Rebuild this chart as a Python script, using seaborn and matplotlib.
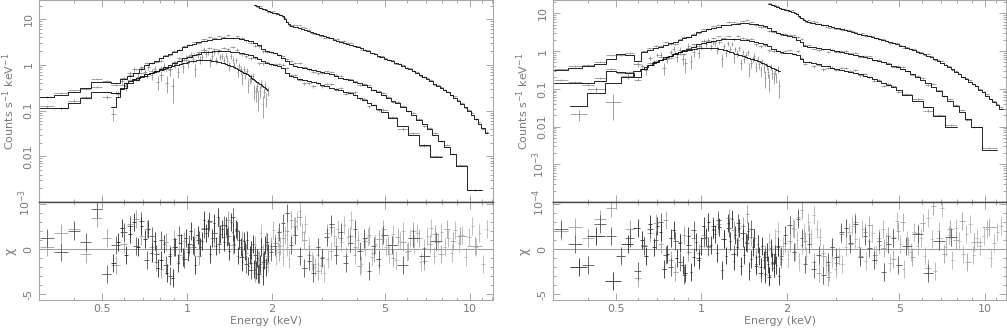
import numpy as np
import pandas as pd
import matplotlib
matplotlib.use("Agg")
import matplotlib.pyplot as plt
from matplotlib.ticker import FixedLocator, FuncFormatter, NullFormatter, MultipleLocator
import seaborn as sns

# ---------------------------
# Energy grids (bin centres, keV)
# ---------------------------
upper_energy = [0.32, 0.36, 0.40, 0.44, 0.48, 0.52, 0.56, 0.60,
                0.63, 0.66, 0.69, 0.72, 0.75, 0.78, 0.81, 0.84, 0.87, 0.90,
                0.94, 0.98, 1.02, 1.06, 1.10,
                1.15, 1.20, 1.25, 1.30, 1.35, 1.40, 1.45, 1.50,
                1.56, 1.62, 1.68, 1.74, 1.80, 1.86, 1.92, 1.98,
                2.05, 2.12, 2.19, 2.26, 2.33, 2.40,
                2.50, 2.60, 2.70, 2.80, 2.90, 3.0,
                3.12, 3.24, 3.36,
                3.5, 3.64, 3.78, 3.92,
                4.08, 4.24, 4.4,
                4.58, 4.76, 4.95,
                5.15, 5.35, 5.55,
                5.8, 6.05, 6.3,
                6.6, 6.9, 7.2, 7.55,
                7.9, 8.3, 8.7, 9.2,
                10.4]
lower_energy = [0.32, 0.36, 0.40, 0.44, 0.48, 0.52, 0.56, 0.60,
                0.63, 0.66, 0.69, 0.72, 0.75, 0.78, 0.81, 0.84, 0.87, 0.90,
                0.94, 0.98, 1.02, 1.06, 1.10,
                1.15, 1.20, 1.25, 1.30, 1.35, 1.40, 1.45, 1.50,
                1.56, 1.62, 1.68, 1.74, 1.80, 1.86, 1.92, 1.98,
                2.05, 2.12, 2.19, 2.26, 2.33, 2.40,
                2.50, 2.60, 2.70, 2.80, 2.90, 3.0,
                3.12, 3.24, 3.36,
                3.5, 3.64, 3.78, 3.92,
                4.08, 4.24, 4.4,
                4.58, 4.76, 4.95,
                5.3, 5.8, 6.3, 6.9, 7.6]
hard_energy = [1.74, 1.78, 1.82, 1.86, 1.90, 1.94, 1.98, 2.02, 2.06, 2.10, 2.14, 2.18, 2.22,
               2.26, 2.30, 2.34,
               2.39, 2.44, 2.50, 2.56, 2.62,
               2.69, 2.76, 2.83, 2.90,
               2.98, 3.06, 3.14,
               3.23, 3.32, 3.41, 3.5,
               3.6, 3.7, 3.8,
               3.91, 4.02, 4.13,
               4.25, 4.37, 4.5,
               4.63, 4.76, 4.9,
               5.04, 5.18, 5.33, 5.48,
               5.64, 5.8, 5.97, 6.14,
               6.32, 6.5, 6.69, 6.88,
               7.08, 7.28, 7.49, 7.7,
               7.92, 8.15, 8.38, 8.62,
               8.87, 9.12, 9.38, 9.65,
               9.93, 10.21, 10.5, 10.8,
               11.1, 11.45]
left_soft_energy = [0.55, 0.57, 0.59, 0.61, 0.63, 0.65, 0.67, 0.69, 0.71, 0.73,
                    0.75, 0.77, 0.79, 0.81, 0.83, 0.85, 0.87, 0.89, 0.91, 0.93,
                    0.95, 0.97, 0.99, 1.01, 1.03, 1.05, 1.07, 1.09, 1.11, 1.13,
                    1.15, 1.17, 1.19, 1.21, 1.23, 1.25, 1.27, 1.29, 1.31, 1.33,
                    1.35, 1.37, 1.39, 1.41, 1.43, 1.45, 1.47, 1.49, 1.51, 1.53,
                    1.55, 1.57, 1.59, 1.61, 1.63, 1.65, 1.67, 1.69, 1.71, 1.73,
                    1.75, 1.77, 1.79, 1.81, 1.83, 1.85, 1.87, 1.89, 1.91, 1.93]
right_soft_energy = [0.37, 0.425, 0.49, 0.55, 0.60,
                     0.62, 0.64, 0.66, 0.68, 0.70, 0.72, 0.74, 0.76, 0.78, 0.80,
                     0.82, 0.84, 0.86, 0.88, 0.90, 0.92, 0.94, 0.96, 0.98, 1.00,
                     1.02, 1.04, 1.06, 1.08, 1.10, 1.12, 1.14, 1.16, 1.18, 1.20,
                     1.22, 1.24, 1.26, 1.28, 1.30, 1.32, 1.34, 1.36, 1.38, 1.40,
                     1.42, 1.44, 1.46, 1.48, 1.50, 1.52, 1.54, 1.56, 1.58, 1.60,
                     1.62, 1.64, 1.66, 1.68, 1.70, 1.72, 1.74, 1.76, 1.78, 1.80,
                     1.82, 1.84, 1.86, 1.88]

# ---------------------------
# Left spectrum: model counts s^-1 keV^-1 and chi residuals
# ---------------------------
left_upper_counts = [0.20, 0.22, 0.25, 0.31, 0.42, 0.42, 0.40, 0.50,
                     0.58, 0.68, 0.82, 1.0, 1.12, 1.25, 1.4, 1.55, 1.72, 1.9,
                     2.15, 2.45, 2.7, 2.9, 3.1,
                     3.3, 3.5, 3.62, 3.72, 3.8, 3.84, 3.85, 3.8,
                     3.65, 3.5, 3.3, 3.05, 2.7, 2.2, 2.0, 1.9,
                     1.8, 1.65, 1.45, 1.25, 1.05, 0.97,
                     0.92, 0.87, 0.82, 0.78, 0.74, 0.7,
                     0.66, 0.62, 0.58,
                     0.53, 0.5, 0.46, 0.43,
                     0.4, 0.36, 0.33,
                     0.29, 0.26, 0.22,
                     0.19, 0.165, 0.145,
                     0.12, 0.1, 0.08,
                     0.063, 0.05, 0.04, 0.03,
                     0.022, 0.016, 0.011, 0.006,
                     0.0018]
left_upper_chi = [0.3, 1.8, 2.2, -0.5, 3.5, 1.2, -1.8, 0.6,
                  2.8, 3.4, 1.5, 2.2, 0.2, -1.4, -2.2, 0.8, -0.5, 1.1,
                  -0.6, 0.9, 0.3, 1.4, -0.8,
                  2.4, 3.0, 1.2, 2.6, 1.4, 3.3, 0.5, 2.1,
                  1.0, -0.4, -1.5, -2.6, -1.2, -2.0, -0.8, 0.4,
                  0.7, -0.3, 1.2, 2.0, 3.2, 2.6,
                  3.6, 1.0, -0.6, -1.6, -2.4, -0.9,
                  1.8, 2.5, 0.4,
                  1.3, -0.7, 1.5, 0.2,
                  -1.9, 0.9, 1.6,
                  -0.4, 1.1, 2.2,
                  0.5, -1.0, 1.4,
                  0.8, -0.2, 2.0,
                  1.2, -1.3, 0.6, 1.7,
                  -0.5, 2.3, 0.9, 1.5,
                  0.4]

left_lower_counts = [0.114, 0.114, 0.145, 0.19, 0.25, 0.25, 0.24, 0.32,
                     0.40, 0.47, 0.55, 0.62, 0.68, 0.74, 0.82, 0.92, 1.02, 1.12,
                     1.25, 1.4, 1.53, 1.65, 1.78,
                     1.88, 1.95, 1.98, 2.0, 2.0, 1.98, 1.95, 1.9,
                     1.85, 1.76, 1.65, 1.5, 1.35, 1.2, 1.1, 1.05,
                     1.0, 0.93, 0.85, 0.68, 0.57, 0.54,
                     0.5, 0.47, 0.44, 0.42, 0.4, 0.37,
                     0.35, 0.32, 0.3,
                     0.28, 0.26, 0.24, 0.215,
                     0.19, 0.17, 0.15,
                     0.13, 0.11, 0.095,
                     0.07, 0.046, 0.03, 0.018, 0.0095]
left_lower_chi = [1.2, -0.3, 2.0, 0.8, 4.5, -2.8, 0.5, 1.9,
                  2.6, 0.4, 3.1, -1.2, 1.5, -0.5, 1.0, -1.8, -3.0, 0.3,
                  1.6, -1.1, 0.6, 0.2, 1.0,
                  2.2, 3.1, 1.8, 0.6, 2.7, 1.5, 3.6, 2.0,
                  -0.9, -1.7, -2.3, -0.6, -2.8, -1.4, 0.8, -0.3,
                  0.4, 1.9, 2.9, 4.0, 0.5, 1.6,
                  -0.8, -2.1, -1.3, -2.7, 0.2, -1.0,
                  1.4, 2.8, -0.6,
                  1.9, -1.5, 0.7, 2.3,
                  -0.2, 1.2, -2.4,
                  0.4, -1.1, 1.6,
                  0.5, -1.8, 1.3, -0.7, 0.9]

left_hard_counts = [20.3, 19.2, 18.0, 17.0, 16.0, 15.2, 14.6, 14.0, 13.5, 13.0, 12.4, 11.6,
                    10.2, 8.8, 7.7, 7.2,
                    6.9, 6.7, 6.45, 6.2, 5.95,
                    5.65, 5.3, 5.0, 4.8,
                    4.6, 4.35, 4.1,
                    3.85, 3.6, 3.4, 3.2,
                    3.05, 2.9, 2.75,
                    2.6, 2.45, 2.3,
                    2.1, 1.98, 1.85,
                    1.72, 1.6, 1.48,
                    1.38, 1.3, 1.2, 1.12,
                    1.04, 0.95, 0.87, 0.8,
                    0.73, 0.67, 0.6, 0.54,
                    0.49, 0.44, 0.38, 0.35,
                    0.31, 0.28, 0.25, 0.22,
                    0.19, 0.165, 0.14, 0.12,
                    0.1, 0.082, 0.065, 0.052,
                    0.042, 0.032]
left_hard_chi = [0.5, -1.2, 1.8, -0.4, 0.9, -1.5, 0.3, 2.1, -0.8, 1.2, 0.4, -0.9,
                 1.6, 0.2, -1.1, 0.8,
                 2.6, 3.1, 4.2, 1.9, 2.8,
                 0.4, -1.3, -2.0, -0.6,
                 -1.8, -2.6, -1.1,
                 -0.2, 1.5, 2.3, 0.8,
                 2.7, 1.4, 3.2,
                 -0.6, 1.0, -1.7,
                 0.2, 1.4, -0.9,
                 0.6, -1.8, 1.1,
                 0.3, -0.5, 1.7, -1.2,
                 0.9, 2.0, -0.3, 1.3,
                 0.6, 1.8, -1.4, 0.1,
                 1.5, 2.4, -0.7, 0.8,
                 1.9, 0.2, 1.2, -0.4,
                 2.1, 0.7, 1.6, -0.9,
                 1.4, 2.6, 0.3, 1.8,
                 -1.6, 2.2]

left_soft_counts = [0.12, 0.2, 0.3, 0.4, 0.45, 0.5, 0.53, 0.56, 0.58, 0.62,
                    0.66, 0.7, 0.74, 0.78, 0.82, 0.86, 0.9, 0.94, 0.98, 1.02,
                    1.06, 1.1, 1.13, 1.17, 1.2, 1.22, 1.25, 1.26, 1.27, 1.28,
                    1.28, 1.28, 1.27, 1.26, 1.24, 1.22, 1.19, 1.17, 1.14, 1.11,
                    1.08, 1.05, 1.02, 0.99, 0.96, 0.93, 0.89, 0.86, 0.82, 0.78,
                    0.75, 0.71, 0.68, 0.65, 0.62, 0.59, 0.56, 0.53, 0.5, 0.48,
                    0.45, 0.43, 0.41, 0.39, 0.37, 0.35, 0.33, 0.32, 0.3, 0.29]
left_soft_chi = [-1.5, 0.8, 2.4, -0.6, 1.7, 3.0, 0.2, 2.6, 1.1, 2.3,
                 -0.4, 0.9, -2.1, -1.2, 0.6, -2.6, -0.8, -3.2, 0.3, -1.5,
                 0.7, -0.9, 1.2, -0.3, 2.0, 0.5, -1.8, 1.6, 0.2, 0.9,
                 3.2, 1.8, 2.4, -0.5, 1.3, 2.9, 0.4, 3.6, 1.7, 2.2,
                 0.8, 2.6, 1.4, -0.2, 3.0, 1.9, 0.6, 2.3, -0.7, 1.0,
                 0.3, -1.4, 0.9, -0.2, 1.0, -1.9, -0.6, -0.1, 0.6, -2.2,
                 -2.3, -1.0, -2.8, -1.6, 0.2, -3.0, -1.2, 0.5, -2.0, -0.4]

# ---------------------------
# Right spectrum
# ---------------------------
right_upper_counts = [0.31, 0.36, 0.40, 0.45, 0.62, 0.82, 0.80, 0.55,
                      0.95, 1.08, 1.18, 1.3, 1.45, 1.6, 1.75, 1.95, 2.15, 2.35,
                      2.7, 3.1, 3.45, 3.75, 4.05,
                      4.4, 4.75, 5.0, 5.2, 5.3, 5.4, 5.4, 5.35,
                      5.2, 4.9, 4.5, 4.0, 3.5, 3.0, 2.85, 2.7,
                      2.55, 2.35, 2.0, 1.7, 1.4, 1.3,
                      1.25, 1.2, 1.15, 1.1, 1.05, 1.0,
                      0.95, 0.9, 0.84,
                      0.79, 0.74, 0.69, 0.64,
                      0.59, 0.54, 0.5,
                      0.45, 0.41, 0.37,
                      0.33, 0.29, 0.25,
                      0.2, 0.17, 0.14,
                      0.11, 0.085, 0.065, 0.048,
                      0.035, 0.024, 0.016, 0.0095,
                      0.0024]
right_upper_chi = [2.0, 2.5, 1.2, 3.4, 4.6, -0.8, 2.2, -3.2,
                   0.5, 1.8, 2.9, 0.6, 3.3, -1.2, -2.5, 0.8, 1.6, -0.3,
                   1.3, -0.4, 1.6, 0.2, 2.1,
                   2.8, 1.1, 3.5, 2.1, 1.0, 2.6, 3.9, 1.4,
                   -0.9, -2.0, -0.5, -2.9, -1.6, 0.2, -1.1, 0.7,
                   0.9, 2.3, 3.6, 4.4, 0.9, 1.7,
                   -1.4, -2.6, -0.8, -3.1, 0.3, -1.5,
                   1.7, 2.4, 0.6,
                   3.0, -0.8, 1.9, 2.7,
                   -0.6, 1.2, 0.1,
                   1.5, -1.1, 2.0,
                   3.0, 0.4, -0.9,
                   1.8, 2.9, -2.1,
                   4.8, 1.2, -0.5, 2.3,
                   1.0, 3.1, -1.4, 0.8,
                   2.5]

right_lower_counts = [0.145, 0.145, 0.145, 0.16, 0.3, 0.28, 0.26, 0.21,
                      0.33, 0.42, 0.5, 0.58, 0.7, 0.76, 0.86, 0.95, 1.05, 1.15,
                      1.3, 1.5, 1.65, 1.78, 1.9,
                      1.98, 2.05, 2.08, 2.1, 2.07, 2.02, 1.95, 1.85,
                      1.75, 1.62, 1.5, 1.32, 1.15, 1.0, 0.95, 0.9,
                      0.87, 0.84, 0.8, 0.62, 0.52, 0.5,
                      0.47, 0.44, 0.41, 0.39, 0.36, 0.34,
                      0.32, 0.3, 0.28,
                      0.26, 0.24, 0.22, 0.2,
                      0.18, 0.16, 0.145,
                      0.125, 0.11, 0.095,
                      0.07, 0.048, 0.032, 0.019, 0.0098]
right_lower_chi = [2.3, 0.6, -1.8, 2.8, 1.5, -0.7, 1.2, -2.4,
                   0.4, 2.2, 1.0, 3.0, -0.6, -2.0, 0.9, -1.4, -2.9, 0.5,
                   2.1, -1.0, 1.3, 0.4, 2.6,
                   3.3, 1.1, 2.4, -0.5, 2.9, 1.8, 0.7, 2.2,
                   -1.9, -2.6, -0.9, -3.1, -1.5, 0.4, -0.8, 1.6,
                   2.7, -0.3, 3.4, 1.2, -1.7, 0.6,
                   -2.2, -0.6, -2.9, -1.4, 0.2, -0.9,
                   1.9, 2.4, 0.7,
                   2.8, -0.9, 1.5, 0.1,
                   -1.2, 0.9, -2.5,
                   0.6, 1.3, -1.8,
                   0.4, 1.7, -2.6, 0.9, 1.4]

right_hard_counts = [17.8, 17.0, 16.0, 15.0, 14.0, 13.2, 12.6, 12.0, 11.5, 11.0, 10.4, 9.5,
                     8.4, 7.3, 6.5, 6.1,
                     5.9, 5.7, 5.5, 5.3, 5.1,
                     4.95, 4.75, 4.55, 4.4,
                     4.2, 4.0, 3.8,
                     3.6, 3.4, 3.2, 3.0,
                     2.85, 2.72, 2.6,
                     2.48, 2.3, 2.2,
                     2.05, 1.95, 1.82,
                     1.7, 1.6, 1.5,
                     1.4, 1.32, 1.22, 1.14,
                     1.05, 0.97, 0.9, 0.83,
                     0.76, 0.69, 0.62, 0.55,
                     0.48, 0.43, 0.37, 0.33,
                     0.28, 0.245, 0.21, 0.18,
                     0.155, 0.135, 0.115, 0.095,
                     0.08, 0.066, 0.055, 0.046,
                     0.038, 0.03]
right_hard_chi = [0.8, -0.5, 1.2, 2.0, -0.9, 0.4, 1.6, -1.1, 0.7, 2.4, -0.3, 1.0,
                  -1.4, 0.5, 1.8, -0.7,
                  3.0, 1.2, 3.8, 2.2, 1.4,
                  -0.4, -1.8, -2.5, -1.0,
                  -2.2, -0.8, -1.6,
                  0.3, 1.9, 2.6, 1.1,
                  0.2, 2.3, -1.3,
                  0.9, 1.8, -0.6,
                  0.5, 2.2, 0.8,
                  -1.5, 1.4, 3.1,
                  0.6, -2.2, 1.0, -0.3,
                  1.9, 0.4, 1.2, -0.8,
                  3.5, 1.1, -2.4, 2.0,
                  4.6, 0.3, 1.6, -1.2,
                  2.4, 0.9, -0.5, 1.7,
                  2.8, -0.6, 1.3, 0.4,
                  1.5, 2.3, -1.0, 0.7,
                  1.9, 2.6]

right_soft_counts = [0.035, 0.075, 0.145, 0.2, 0.3,
                     0.33, 0.37, 0.42, 0.47, 0.52, 0.58, 0.63, 0.69, 0.75, 0.82,
                     0.88, 0.93, 0.98, 1.02, 1.06, 1.09, 1.12, 1.15, 1.17, 1.19,
                     1.2, 1.21, 1.21, 1.21, 1.2, 1.19, 1.18, 1.15, 1.12, 1.09,
                     1.05, 1.01, 0.97, 0.93, 0.9, 0.86, 0.83, 0.8, 0.77, 0.74,
                     0.72, 0.69, 0.67, 0.65, 0.63, 0.61, 0.59, 0.57, 0.55, 0.53,
                     0.51, 0.49, 0.47, 0.45, 0.43, 0.41, 0.4, 0.38, 0.36, 0.35,
                     0.33, 0.32, 0.31, 0.29]
right_soft_chi = [-2.0, 1.5, -3.5, 0.6, 2.4,
                  1.0, -0.8, 2.8, 0.3, 2.6, 1.9, -2.2, -0.5, 1.2, 2.1,
                  -1.0, 0.7, -1.8, -2.7, 1.5, -2.5, -0.9, 0.8, -1.2, 0.4,
                  2.6, 1.4, 3.0, 0.5, 2.2, 1.7, -0.4, 2.5, -2.3, 1.1,
                  -0.7, 2.9, 0.9, 3.4, -1.3, 1.6, 0.3, 2.4, -1.9, 1.2,
                  -0.6, 0.8, 2.0, -2.4, -1.1, 0.2, 1.3, -1.6, 0.6, -0.8,
                  -2.0, 0.4, -1.2, -2.8, -0.3, -1.7, -3.0, 0.1, -1.4, -2.1,
                  -0.5, -1.8, 0.3, -3.0]

# relative 1-sigma error of each dataset
soft_err, upper_err, lower_err, hard_err = 0.2, 0.05, 0.07, 0.035

MODEL = "#000000"
DATA = "#8a8a8a"
FRAME = "#a8a8a8"
TEXT = "#7a7a7a"
FS = 8

sns.set_theme(style="ticks")
plt.rcParams["font.family"] = ["DejaVu Sans"]
plt.rcParams["mathtext.default"] = "regular"


def bin_edges(energy):
    e = np.asarray(energy, dtype=float)
    mid = np.sqrt(e[1:] * e[:-1])
    lo = np.concatenate([[e[0] ** 2 / mid[0]], mid])
    hi = np.concatenate([mid, [e[-1] ** 2 / mid[-1]]])
    return lo, hi


def count_label(v, pos):
    labels = {10: "10", 1: "1", 0.1: "0.1", 0.01: "0.01", 1e-3: "10$^{-3}$", 1e-4: "10$^{-4}$"}
    for k, s in labels.items():
        if np.isclose(v, k):
            return s
    return ""


def draw_panel(ax_top, ax_res, datasets, xlim, ylim, yticks):
    for ax in (ax_top, ax_res):
        ax.set_xscale("log")
        ax.set_xlim(*xlim)
    ax_top.set_yscale("log")
    ax_top.set_ylim(*ylim)
    ax_res.set_ylim(-5.65, 5.25)
    ax_res.axhline(0, color="#9a9a9a", lw=0.7, zorder=1)

    for energy, counts, chi, frac, res_color in datasets:
        assert len(energy) == len(counts) == len(chi), (len(energy), len(counts), len(chi))
        e = np.asarray(energy, dtype=float)
        m = np.asarray(counts, dtype=float)
        c = np.asarray(chi, dtype=float)
        lo, hi = bin_edges(e)
        data = m * (1 + c * frac)
        ax_top.errorbar(e, data, xerr=[e - lo, hi - e], yerr=m * frac, fmt="none",
                        ecolor=DATA, elinewidth=0.55, capsize=0, zorder=2)
        step = pd.DataFrame({"energy": np.append(lo, hi[-1]), "counts": np.append(m, m[-1])})
        sns.lineplot(data=step, x="energy", y="counts", ax=ax_top, drawstyle="steps-post",
                     estimator=None, sort=False, color=MODEL, lw=0.6, zorder=3)
        ax_res.errorbar(e, c, xerr=[e - lo, hi - e], yerr=1, fmt="none",
                        ecolor=res_color, elinewidth=0.6, capsize=0, zorder=2)

    # ticks
    for ax in (ax_top, ax_res):
        ax.xaxis.set_major_locator(FixedLocator([0.5, 1, 2, 5, 10]))
        ax.xaxis.set_minor_locator(FixedLocator([0.3, 0.4, 0.6, 0.7, 0.8, 0.9, 3, 4, 6, 7, 8, 9, 11, 12]))
        ax.xaxis.set_minor_formatter(NullFormatter())
        ax.tick_params(which="both", direction="in", top=True, right=True,
                       color=FRAME, labelcolor=TEXT, labelsize=FS, width=0.7)
        ax.tick_params(which="major", length=5)
        ax.tick_params(which="minor", length=2.5)
        for side in ("left", "right", "top", "bottom"):
            ax.spines[side].set_color(FRAME)
            ax.spines[side].set_linewidth(0.8)
    ax_top.spines["bottom"].set_color("#4a4a4a")
    ax_res.spines["top"].set_color("#4a4a4a")
    ax_top.spines["bottom"].set_linewidth(1.0)
    ax_res.spines["top"].set_linewidth(1.0)

    ax_top.tick_params(labelbottom=False)
    ax_top.tick_params(axis="y", pad=4)
    ax_top.yaxis.set_major_locator(FixedLocator(yticks))
    ax_top.yaxis.set_minor_locator(FixedLocator(
        [k * 10.0 ** p for p in range(-4, 2) for k in range(2, 10)]))
    ax_top.yaxis.set_major_formatter(FuncFormatter(count_label))
    ax_top.yaxis.set_minor_formatter(NullFormatter())
    for lab in ax_top.get_yticklabels():
        lab.set_rotation(90)
        lab.set_va("center")
    ax_top.set_xlabel("")
    ax_top.set_ylabel("Counts s$^{-1}$ keV$^{-1}$", color=TEXT, fontsize=FS)
    ax_top.yaxis.set_label_coords(-0.049, 0.5)

    ax_res.tick_params(axis="y", pad=4)
    ax_res.tick_params(axis="x", pad=3)
    ax_res.yaxis.set_major_locator(FixedLocator([-5, 0, 5]))
    ax_res.yaxis.set_minor_locator(MultipleLocator(1))
    ax_res.yaxis.set_major_formatter(FuncFormatter(lambda v, p: "" if v > 4 else "%d" % v))
    for lab in ax_res.get_yticklabels():
        lab.set_rotation(90)
        lab.set_va("center")
    ax_res.set_xticklabels(["0.5", "1", "2", "5", "10"])
    ax_res.set_xlabel("Energy (keV)", color=TEXT, fontsize=FS, labelpad=1)
    ax_res.set_ylabel("χ", color=TEXT, fontsize=FS + 1)
    ax_res.yaxis.set_label_coords(-0.049, 0.5)


fig = plt.figure(figsize=(10.07, 3.29), dpi=100)
top_l = fig.add_axes([0.0387, 0.386, 0.4508, 0.614])
res_l = fig.add_axes([0.0387, 0.0881, 0.4508, 0.2979])
top_r = fig.add_axes([0.5492, 0.386, 0.4498, 0.614])
res_r = fig.add_axes([0.5492, 0.0881, 0.4498, 0.2979])

draw_panel(top_l, res_l, [
    (hard_energy, left_hard_counts, left_hard_chi, hard_err, "#b4b4b4"),
    (upper_energy, left_upper_counts, left_upper_chi, upper_err, "#a0a0a0"),
    (lower_energy, left_lower_counts, left_lower_chi, lower_err, "#555555"),
    (left_soft_energy, left_soft_counts, left_soft_chi, soft_err, "#2a2a2a"),
], (0.3, 12.06), (1e-3, 26.4), [10, 1, 0.1, 0.01, 1e-3])

draw_panel(top_r, res_r, [
    (hard_energy, right_hard_counts, right_hard_chi, hard_err, "#b4b4b4"),
    (upper_energy, right_upper_counts, right_upper_chi, upper_err, "#a0a0a0"),
    (lower_energy, right_lower_counts, right_lower_chi, lower_err, "#555555"),
    (right_soft_energy, right_soft_counts, right_soft_chi, soft_err, "#2a2a2a"),
], (0.3, 11.9), (1e-4, 22.5), [10, 1, 0.1, 0.01, 1e-3, 1e-4])

fig.savefig("out.png", dpi=100)
